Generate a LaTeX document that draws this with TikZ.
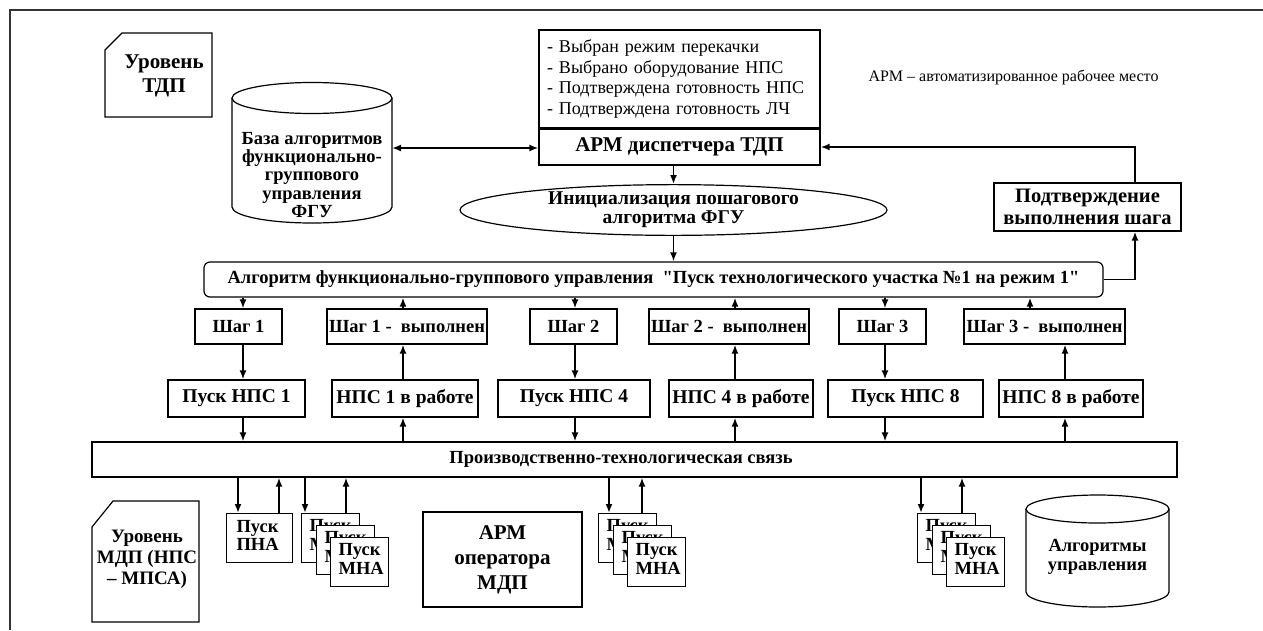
\documentclass[tikz,border=0pt]{standalone}
\usepackage{fontspec}
\setmainfont{Liberation Serif}
\newfontfamily\rawfamily[Ligatures=TeXOff]{Liberation Serif}
\usetikzlibrary{arrows.meta,shapes.geometric,calc}

\newcommand{\fsz}[1]{\fontsize{#1}{1.1\dimexpr #1pt\relax}\selectfont}
\newcommand{\sq}{{\rawfamily\bfseries"}}

\tikzset{
  box/.style={draw, line width=1.2pt, fill=white, inner sep=0pt, align=center,
              font=\bfseries\fsz{18.5}},
  nps/.style={box, minimum height=37pt, font=\bfseries\fsz{19.5}},
  stepbox/.style={box, minimum height=35pt, font=\bfseries\fsz{18.5}},
  arr/.style={-{Latex[length=9pt,width=7pt]}, line width=1.8pt},
  darr/.style={{Latex[length=9pt,width=7pt]}-{Latex[length=9pt,width=7pt]}, line width=1.8pt},
  thin/.style={line width=1.2pt},
  mna/.style={box, minimum width=58pt, minimum height=49pt, anchor=north west,
              font=\bfseries\fsz{18.5}, align=left, text width=42pt, inner xsep=8pt},
}

\begin{document}
\begin{tikzpicture}[x=1pt, y=-1pt]
\useasboundingbox (0,0) rectangle (1263,630);

% outer frame (top and left edges)
\draw[line width=1.2pt, black!80] (1263,10) -- (10,10) -- (10,630);

% ---------- upper level ----------
% level card
\draw[thin] (122,33) -- (212,33) -- (212,117) -- (105,117) -- (105,50) -- cycle;
\node[font=\bfseries\fsz{21}, align=center] (tdp) at (164,76) {Уровень\\[1pt]ТДП};

% algorithm base cylinder
\draw[thin] (312,98) ellipse [x radius=80, y radius=15.5];
\draw[thin] (232,98) -- (232,207) arc[start angle=180, end angle=0, x radius=80, y radius=16] -- (392,98);
\node[font=\bfseries\fsz{18.5}, align=center, inner sep=0pt] (base) at (312,175)
  {База алгоритмов\\[-2pt]функционально-\\[-2pt]группового\\[-2pt]управления\\[-2pt]ФГУ};

% dispatcher workstation with status list
\node[box, minimum width=281pt, minimum height=98pt, font=\fsz{18}, align=left,
      text width=265pt] (list) at (679.5,79)
  {- Выбран режим перекачки\\[0.7pt]- Выбрано оборудование НПС\\[0.7pt]- Подтверждена готовность НПС\\[0.7pt]- Подтверждена готовность ЛЧ};
\node[box, minimum width=281pt, minimum height=36pt, font=\bfseries\fsz{21}] (apm) at (679.5,147) {АРМ диспетчера ТДП};

\node[font=\fsz{16}] (legend) at (1013.5,77) {АРМ -- автоматизированное рабочее место};

% initialisation
\node[draw, thin, ellipse, minimum width=427pt, minimum height=44pt, inner sep=0pt,
      align=center, font=\bfseries\fsz{19.5}] (init) at (673.5,210)
  {Инициализация пошагового\\[-2.5pt]алгоритма ФГУ};

% step confirmation
\node[box, minimum width=187pt, minimum height=48pt, font=\bfseries\fsz{20.5}] (conf) at (1087.5,207)
  {Подтверждение\\[0pt]выполнения шага};

% group control algorithm
\node[box, rounded corners=6pt, minimum width=899pt, minimum height=35pt] (alg) at (653.5,279.5)
  {Алгоритм функционально-группового управления\ \ \sq Пуск технологического участка №1 на режим 1\sq};

% ---------- steps ----------
\node[stepbox, minimum width=87pt]  (s1)  at (238.5,326.5) {Шаг 1};
\node[stepbox, minimum width=160pt] (s1d) at (407,326.5)   {Шаг 1 -\ \ выполнен};
\node[stepbox, minimum width=87pt]  (s2)  at (573.5,326.5) {Шаг 2};
\node[stepbox, minimum width=160pt] (s2d) at (729,326.5)   {Шаг 2 -\ \ выполнен};
\node[stepbox, minimum width=87pt]  (s3)  at (882.5,326.5) {Шаг 3};
\node[stepbox, minimum width=161pt] (s3d) at (1044.5,326.5) {Шаг 3 -\ \ выполнен};

% ---------- pumping stations ----------
\node[nps, minimum width=137pt] (n1)  at (236.5,398.5) {Пуск НПС 1};
\node[nps, minimum width=146pt] (n1w) at (405,398.5)   {НПС 1 в работе};
\node[nps, minimum width=152pt] (n4)  at (574,398.5)   {Пуск НПС 4};
\node[nps, minimum width=144pt] (n4w) at (741,398.5)   {НПС 4 в работе};
\node[nps, minimum width=155pt] (n8)  at (905.5,398.5) {Пуск НПС 8};
\node[nps, minimum width=144pt] (n8w) at (1071,398.5)  {НПС 8 в работе};

% ---------- communication bus ----------
\node[box, minimum width=1085pt, minimum height=35pt] (bus) at (634.5,459.5) {};
\node[font=\bfseries\fsz{18.5}] (bustext) at (621,459) {Производственно-технологическая связь};

% column positions of the vertical links
\coordinate (k1) at (243,0);
\coordinate (k2) at (403,0);
\coordinate (k3) at (575,0);
\coordinate (k4) at (735,0);
\coordinate (k5) at (885,0);
\coordinate (k6) at (1065,0);
\coordinate (k6t) at (1030,0);
\coordinate (kr) at (1135,0);

% ---------- upper links ----------
\draw[darr] (392,148) -- (apm.west |- 0,148);
\draw[arr] (init.north |- apm.south) -- (init.north);
\draw[arr] (init.south) -- (alg.north -| init.south);
\draw[arr] (alg.east) -- (alg.east -| kr) -- (conf.south -| kr);
\draw[arr] (conf.north -| kr) -- (kr |- apm.east) -- (apm.east);

% ---------- step links ----------
\draw[arr] (alg.south -| k1) -- (s1.north -| k1);
\draw[arr] (s1.south -| k1) -- (n1.north -| k1);
\draw[arr] (n1.south -| k1) -- (bus.north -| k1);

\draw[arr] (bus.north -| k2) -- (n1w.south -| k2);
\draw[arr] (n1w.north -| k2) -- (s1d.south -| k2);
\draw[arr] (s1d.north -| k2) -- (alg.south -| k2);

\draw[arr] (alg.south -| k3) -- (s2.north -| k3);
\draw[arr] (s2.south -| k3) -- (n4.north -| k3);
\draw[arr] (n4.south -| k3) -- (bus.north -| k3);

\draw[arr] (bus.north -| k4) -- (n4w.south -| k4);
\draw[arr] (n4w.north -| k4) -- (s2d.south -| k4);
\draw[arr] (s2d.north -| k4) -- (alg.south -| k4);

\draw[arr] (alg.south -| k5) -- (s3.north -| k5);
\draw[arr] (s3.south -| k5) -- (n8.north -| k5);
\draw[arr] (n8.south -| k5) -- (bus.north -| k5);

\draw[arr] (bus.north -| k6) -- (n8w.south -| k6);
\draw[arr] (n8w.north -| k6) -- (s3d.south -| k6);
\draw[arr] (s3d.north -| k6t) -- (alg.south -| k6t);

% ---------- lower level ----------
\draw[thin] (113,501) -- (199,501) -- (199,622) -- (92,622) -- (92,527) -- cycle;
\node[font=\bfseries\fsz{19}, align=center] (mdp) at (147,559) {Уровень\\[0pt]МДП (НПС\\[0pt]-- МПСА)};

\node[box, minimum width=66pt, minimum height=49pt, anchor=north west, align=left,
      text width=46pt, inner xsep=10pt, font=\bfseries\fsz{18.5}] (pna) at (226,513)
  {Пуск\\[-3pt]ПНА\rule[-5pt]{0pt}{5pt}};

% stacked unit-start boxes, three groups
\foreach \g/\x in {a/301, b/598, c/917} {
  \node[mna] (\g1) at (\x,513)    {Пуск\\[-1.5pt]МНА\rule[-6pt]{0pt}{6pt}};
  \node[mna] (\g2) at (\x+15,525) {Пуск\\[-1.5pt]МНА\rule[-6pt]{0pt}{6pt}};
  \node[mna] (\g3) at (\x+29,537) {Пуск\\[-1.5pt]МНА\rule[-6pt]{0pt}{6pt}};
}

\draw[arr] (bus.south -| 238,0) -- (pna.north -| 238,0);
\draw[arr] (pna.north -| 279,0) -- (bus.south -| 279,0);
\draw[arr] (bus.south -| 305,0) -- (a1.north -| 305,0);
\draw[arr] (a1.north -| 346,0) -- (bus.south -| 346,0);
\draw[arr] (bus.south -| 609,0) -- (b1.north -| 609,0);
\draw[arr] (b1.north -| 642,0) -- (bus.south -| 642,0);
\draw[arr] (bus.south -| 921,0) -- (c1.north -| 921,0);
\draw[arr] (c1.north -| 962,0) -- (bus.south -| 962,0);

% operator workstation
\node[box, line width=2pt, minimum width=159pt, minimum height=95pt, font=\bfseries\fsz{21}]
  (apmop) at (502.5,559.5) {АРМ\\[2pt]оператора\\[2pt]МДП};

% control algorithms store
\draw[thin] (1097.5,509) ellipse [x radius=71.5, y radius=14];
\draw[thin] (1026,509) -- (1026,592) arc[start angle=180, end angle=0, x radius=71.5, y radius=15] -- (1169,509);
\node[font=\bfseries\fsz{18.5}, align=center] (algs) at (1097.5,557) {Алгоритмы\\[-1pt]управления};

\end{tikzpicture}
\end{document}
